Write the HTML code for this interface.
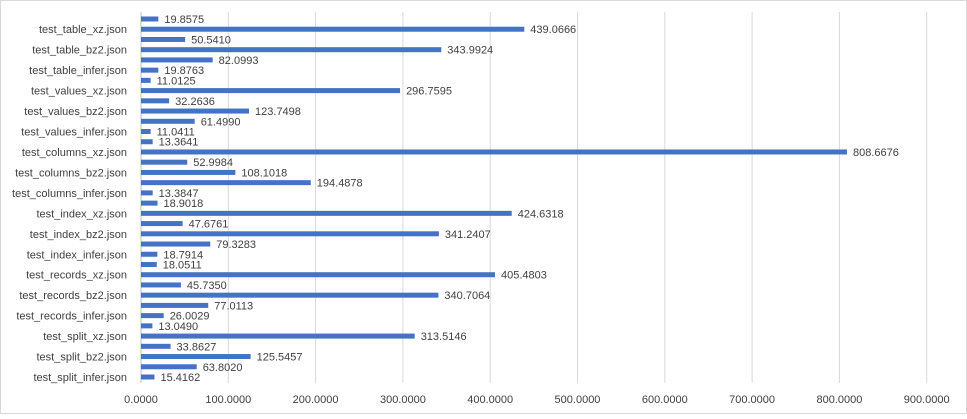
<!DOCTYPE html>
<html><head><meta charset="utf-8"><style>
body{margin:0;background:#fff;font-family:"Liberation Sans",sans-serif}
svg text{font-family:"Liberation Sans",sans-serif;font-size:11px;fill:#404040}
</style></head><body>
<svg id="c" width="967" height="414">
<rect x="0.5" y="0.5" width="966" height="413" fill="#fff" stroke="#d9d9d9"/>
</svg>
<script>
const categories=["test_split_infer.json","","test_split_bz2.json","","test_split_xz.json","","test_records_infer.json","","test_records_bz2.json","","test_records_xz.json","","test_index_infer.json","","test_index_bz2.json","","test_index_xz.json","","test_columns_infer.json","","test_columns_bz2.json","","test_columns_xz.json","","test_values_infer.json","","test_values_bz2.json","","test_values_xz.json","","test_table_infer.json","","test_table_bz2.json","","test_table_xz.json",""];
const values=[15.4162,63.8020,125.5457,33.8627,313.5146,13.0490,26.0029,77.0113,340.7064,45.7350,405.4803,18.0511,18.7914,79.3283,341.2407,47.6761,424.6318,18.9018,13.3847,194.4878,108.1018,52.9984,808.6676,13.3641,11.0411,61.4990,123.7498,32.2636,296.7595,11.0125,19.8763,82.0993,343.9924,50.5410,439.0666,19.8575];
const ticks=[0,100,200,300,400,500,600,700,800,900];
</script>
<script>
const svg=document.getElementById('c'),NS='http://www.w3.org/2000/svg';
const n=values.length;
const X0=141,PX=0.873,Ybot=377,Ytop=19;
const xs=v=>X0+v*PX;
const ys=i=>Ybot-i*(Ybot-Ytop)/(n-1);
function mk(t,a){const e=document.createElementNS(NS,t);for(const k in a)e.setAttribute(k,a[k]);svg.appendChild(e);return e;}
ticks.forEach(t=>{
 const g=mk('line',{x1:xs(t),x2:xs(t),y1:12,y2:383,stroke:t===0?'#bfbfbf':'#d9d9d9'});
 
 
 const l=mk('text',{x:xs(t),y:403,'text-anchor':'middle'});l.textContent=t.toFixed(4);
 
 
});
values.forEach((v,i)=>{
 const y=ys(i);
 const b=mk('rect',{x:X0,y:y-2.5,width:xs(v)-X0,height:5,fill:'#4472c4'});
 
 
 const t=mk('text',{x:xs(v)+6,y:y+4});t.textContent=v.toFixed(4);
 
 
 if(categories[i]){
  const c=mk('text',{x:127,y:y+4,'text-anchor':'end'});c.textContent=categories[i];
  
  
 }
});
</script>
</body></html>
